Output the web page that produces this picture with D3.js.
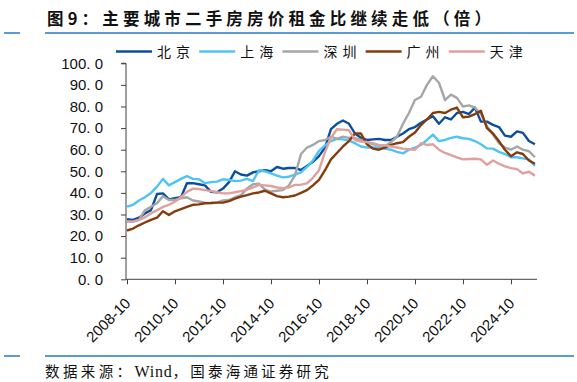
<!DOCTYPE html>
<html><head><meta charset="utf-8">
<script src="https://cdn.jsdelivr.net/npm/d3@7"></script>
<style>body{margin:0;background:#fff}</style>
</head><body>
<svg id="c" width="577" height="382"></svg>
<script>
const months = ["2008-10",
"2009-01","2009-04","2009-07","2009-10","2010-01","2010-04","2010-07","2010-10",
"2011-01","2011-04","2011-07","2011-10","2012-01","2012-04","2012-07","2012-10",
"2013-01","2013-04","2013-07","2013-10","2014-01","2014-04","2014-07","2014-10",
"2015-01","2015-04","2015-07","2015-10","2016-01","2016-04","2016-07","2016-10",
"2017-01","2017-04","2017-07","2017-10","2018-01","2018-04","2018-07","2018-10",
"2019-01","2019-04","2019-07","2019-10","2020-01","2020-04","2020-07","2020-10",
"2021-01","2021-04","2021-07","2021-10","2022-01","2022-04","2022-07","2022-10",
"2023-01","2023-04","2023-07","2023-10","2024-01","2024-04","2024-07","2024-10",
"2025-01","2025-04","2025-07","2025-10"];
const xTickLabels = ["2008-10","2010-10","2012-10","2014-10","2016-10","2018-10","2020-10","2022-10","2024-10"];
const yTicks = [0,10,20,30,40,50,60,70,80,90,100];
const seriesNames = ["北京","上海","深圳","广州","天津"];
const beijing = [27.8,27.5,28.5,30.5,32,39.5,39.8,37,37.5,38,
44.5,44.5,44,43.5,40.5,40.3,42,45,50,48.5,
48,49.5,50,50.5,50,52,51.2,51.5,51.5,50.6,
52.5,54.4,57,61,69.5,72,73.5,72,67.5,65.5,
64.5,64.8,65,64.5,64.5,66,67.5,69.5,70.5,72.5,
74,75.5,72,75,74,77,77.5,76.5,79.5,73,
73,71.5,70.5,66.5,66,68.5,67.8,64,62.5];
const shanghai = [33.6,34.5,36.5,38,40,42.9,46.5,43.5,45,46.5,
47.8,46.5,46.3,44.5,45,45.2,46.3,46,45.5,45.7,
46.5,45.5,50.5,50,49,48,47.2,47.5,48.5,49.5,
52,55,59.5,62,64,65,64.8,64.2,63,61.5,
61,61,61,60.5,60,59,58.3,60,61,62.2,
64.5,67,64,64.5,65.5,66,65.3,65,64,62.5,
60.6,60.5,59,58,56.5,56.5,56,55.5,52.5];
const shenzhen = [26.7,26.7,27.5,32,33.6,35.2,38.5,36.7,36.7,37.5,
38,36.5,36,35.5,35.3,35.5,36.5,36.7,38,39,
42,44,44.3,41.5,40.6,41,41.3,43.5,48,58,
61,62.2,64,64.5,66,65,66,65.5,65.3,64.5,
63.5,62.5,62,61.7,63.5,66,72,77,83,84.5,
90,94,91,83,85.5,84,80,80.5,79.5,76.5,
71,67,63,61,60,61.5,60,59.3,56.5];
const guangzhou = [22.6,23.5,25,26.3,27.5,28.5,31.5,29.8,31.5,32.5,
33.5,34.5,34.7,35.2,35.3,35.5,35.5,36.2,37.3,38.3,
39,39.8,40.2,41,39.8,38.5,38,38.3,38.8,40,
41.3,43.5,46,50.5,55.5,58.5,61.5,64,67.5,67.5,
62.5,60.5,60,61,62.2,63,63.5,66,68,71.4,
74,77,77.5,77,78.5,79.5,75,75.3,76.5,78,
70,67.5,64,60,57,58.8,58,55,53.5];
const tianjin = [26.7,26.7,27.5,28.7,30.5,32,33.5,34.5,35.9,38,
40.5,42,41.8,41.3,40.8,40.3,39.8,39.8,40.3,40.8,
41.5,42.5,43.7,43.5,43.2,42.5,42.2,42.5,43.7,43.8,
44.4,47,50.5,59,65.5,69.5,69.3,69,64.5,63.8,
63.5,63,62.2,62,61.5,61,60.5,60.2,60,63,
62.2,62.5,60,58.5,57.5,56.5,55.5,55.7,55.8,55.5,
53,55,53.5,52.3,51.5,51,49,49.8,48];
const seriesValues = [beijing, shanghai, shenzhen, guangzhou, tianjin];
const colors = ["#0B4F9C","#4FC4F2","#A6A6A6","#843C0C","#E0A09E"];

const parse = d3.timeParse("%Y-%m");
const svg = d3.select("#c");
const fontCJK = "'Noto Sans CJK SC', sans-serif";
const fontLat = "'Liberation Sans', Arial, sans-serif";

// header / footer rules
const rule = "#5B9BD5";
[[4,20],[45,574]].forEach(([a,b])=>{
  svg.append("line").attr("x1",a).attr("x2",b).attr("y1",33).attr("y2",33).attr("stroke",rule).attr("stroke-width",2);
  svg.append("line").attr("x1",a).attr("x2",b).attr("y1",356).attr("y2",356).attr("stroke",rule).attr("stroke-width",2);
});
svg.append("text").attr("x",47).attr("y",25).attr("font-family",fontCJK).attr("font-weight",700)
  .attr("font-size",16.5).attr("textLength",444).attr("lengthAdjust","spacing").attr("fill","#111")
  .text("图9：主要城市二手房房价租金比继续走低（倍）");
const ft = svg.append("text").attr("x",45).attr("y",377).attr("font-family",fontCJK)
  .attr("font-size",14.5).attr("fill","#111");
ft.append("tspan").attr("letter-spacing",3.4).text("数据来源：");
ft.append("tspan").attr("font-family","'Liberation Serif', serif").attr("font-size",16).attr("letter-spacing",0.8).text("Wind");
ft.append("tspan").attr("letter-spacing",3.2).text("，国泰海通证券研究");

const x = d3.scaleTime().domain([parse("2008-10"), parse("2025-11")]).range([127,537]);
const y = d3.scaleLinear().domain([0,100]).range([279.3,63.3]);

// y axis
const ya = svg.append("g").attr("transform","translate(126,0)")
  .call(d3.axisLeft(y).tickValues(yTicks).tickSize(5).tickPadding(18)
    .tickFormat(d=>d3.format(".1f")(d).replace(".", ". ")));
ya.select(".domain").attr("stroke","#404040").attr("d","M-5,63.3H0V279.3");
ya.selectAll(".tick line").attr("stroke","#404040");
ya.selectAll("text").attr("font-family",fontLat).attr("font-size",15).attr("fill","#111");

// x axis
const xa = svg.append("g").attr("transform","translate(0,279.3)")
  .call(d3.axisBottom(x).tickValues(xTickLabels.map(parse)).tickSize(5).tickFormat(d3.timeFormat("%Y-%m")));
xa.select(".domain").attr("stroke","#404040").attr("d","M126,0H537");
xa.selectAll(".tick line").attr("stroke","#404040");
xa.selectAll("text").attr("font-family",fontLat).attr("font-size",15).attr("fill","#111")
  .attr("text-anchor","end").attr("dy",0).attr("y",0)
  .attr("transform","translate(4,25) rotate(-45)");

// lines
const line = d3.line().x((d,i)=>x(parse(months[i]))).y(d=>y(d));
seriesValues.forEach((vals,k)=>{
  svg.append("path").datum(vals).attr("d",line).attr("fill","none")
    .attr("stroke",colors[k]).attr("stroke-width",2.4).attr("stroke-linejoin","round");
});

// legend
const lg = svg.append("g");
seriesNames.forEach((n,k)=>{
  const x0 = 116 + k*83.2;
  lg.append("line").attr("x1",x0).attr("x2",x0+36).attr("y1",51.5).attr("y2",51.5)
    .attr("stroke",colors[k]).attr("stroke-width",2.4);
  lg.append("text").attr("x",x0+41).attr("y",57).attr("font-family",fontCJK).attr("font-size",14)
    .attr("textLength",33).attr("lengthAdjust","spacing").attr("fill","#111").text(n);
});
</script>
</body></html>
